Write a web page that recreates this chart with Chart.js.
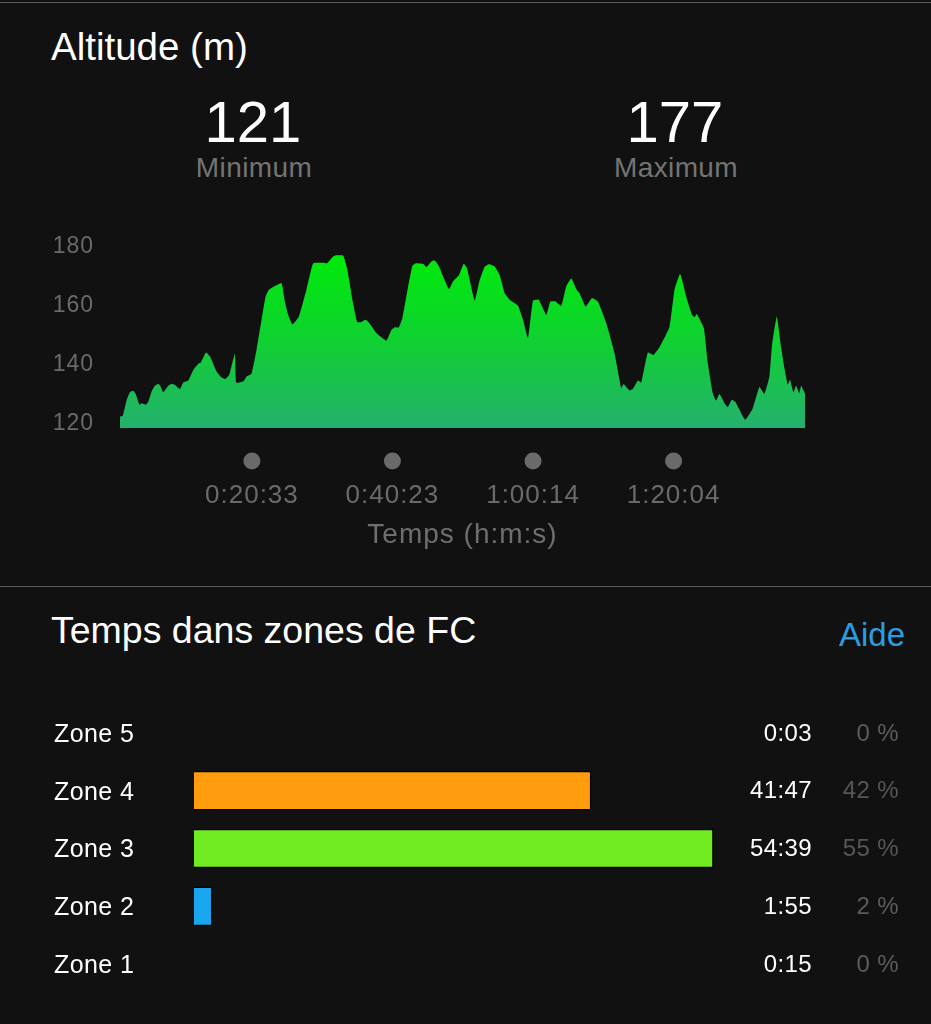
<!DOCTYPE html>
<html>
<head>
<meta charset="utf-8">
<title>Altitude</title>
<script src="https://cdn.jsdelivr.net/npm/chart.js@4"></script>
<style>
  html, body { margin: 0; padding: 0; background: #111112; }
  body { width: 931px; height: 1024px; position: relative; overflow: hidden; font-family: "Liberation Sans", Arial, sans-serif; }
  .t { position: absolute; white-space: nowrap; line-height: 1; }
  .c { transform: translateX(-50%); }
  .sub { font-size: 28px; color: #747474; letter-spacing: 0.4px; top: 154px; }
  .big { font-size: 58px; color: #fff; top: 93px; }
  .rule { position: absolute; left: 0; width: 931px; height: 1px; background: #5a5a5a; }
  canvas { position: absolute; left: 0; }
</style>
</head>
<body>
<div class="rule" style="top:2px"></div>
<div class="t" style="left:51px;top:28px;font-size:38.5px;color:#fff">Altitude (m)</div>
<div class="t c big" style="left:253px">121</div>
<div class="t c sub" style="left:254px">Minimum</div>
<div class="t c big" style="left:675px">177</div>
<div class="t c sub" style="left:676px">Maximum</div>
<canvas id="altChart" width="931" height="330" style="top:230px"></canvas>
<div class="rule" style="top:586px"></div>
<div class="t" style="left:51px;top:612px;font-size:37.5px;color:#fff">Temps dans zones de FC</div>
<div class="t" style="right:26px;top:618px;font-size:33px;color:#2a9de0">Aide</div>
<canvas id="zoneChart" width="931" height="300" style="top:700px"></canvas>
<script>
// altitude trace, elapsed seconds / metres
const altTimes = [116,116,139,173,201,229,252,280,300,336,356,384,412,441,460,483,525,553,582,624,652,694,737,779,801,844,878,934,976,1005,1041,1089,1100,1160,1188,1230,1272,1315,1349,1377,1428,1484,1512,1540,1577,1631,1695,1752,1836,1870,1921,1944,2006,2039,2090,2124,2161,2195,2223,2288,2372,2415,2443,2477,2508,2556,2592,2620,2682,2711,2753,2781,2818,2852,2902,2936,2987,3027,3055,3120,3162,3205,3241,3289,3331,3374,3416,3487,3529,3571,3613,3661,3726,3760,3802,3853,3895,3938,3980,4008,4059,4113,4163,4234,4304,4361,4380,4431,4459,4502,4530,4586,4634,4685,4770,4812,4860,4911,4959,4981,5001,5060,5094,5136,5164,5193,5235,5263,5297,5328,5410,5475,5531,5573,5616,5638,5678,5714,5743,5771,5790,5819,5841,5869,5884,5917];
const altValues = [118,121.8,122,127.5,130.1,130.5,129.2,125.8,126.3,125.8,126.9,130.3,132.2,132.9,132,130,132.2,132.9,132.5,131.1,133.3,134,137.6,139.7,140.1,143.5,142.2,137.1,135,134.5,135.9,143.1,133.3,133.7,135.4,136.3,144.4,154.6,162.5,164.8,166.1,167,160.8,156.3,153,155.7,164.8,173.8,174,173.8,176.1,176.5,176.4,172.1,160.2,153.9,153.9,154.6,153.7,150.1,147.5,151.2,152.1,152,155.2,165.9,172.9,173.8,173.6,172.5,174.4,174.7,172.7,169.3,165,167.6,169.8,173.6,172.1,161.1,168.1,172.7,173.5,172.7,169.8,163.6,161.4,159.4,154.6,148.4,161.1,161.5,156.3,160.8,160.9,159.3,165.9,168.6,165,163.6,159.1,162,160.8,153.5,143.3,131.4,132.8,130.6,131.1,134,133.3,143.5,142.7,145.3,152.3,164.8,170.2,162.5,156.3,155.5,156.6,151.8,139.9,129.7,127.2,129.4,126.3,125,127.5,126.7,120.7,124.6,131.8,129.5,135.4,146.1,155.7,145.5,138.2,132.6,134.3,130,132.2,129.7,132.2,129.5];
const altTicks = [120, 140, 160, 180];
const timeTicks = [1233, 2423, 3614, 4804];
const timeLabels = ['0:20:33', '0:40:23', '1:00:14', '1:20:04'];

const zoneNames = ['Zone 5', 'Zone 4', 'Zone 3', 'Zone 2', 'Zone 1'];
const zoneSeconds = [3, 2507, 3279, 115, 15];
const zoneTimes = ['0:03', '41:47', '54:39', '1:55', '0:15'];
const zonePercents = ['0 %', '42 %', '55 %', '2 %', '0 %'];
const zoneColors = ['transparent', '#ff9d0e', '#72ec22', '#18a6ee', 'transparent'];
const zoneBorders = ['transparent', '#000', '#000', '#000', 'transparent'];

const fontName = '"Liberation Sans"';

// the grey dots over each time label, plus the tracking the labels need
const timeDots = {
    id: 'timeDots',
    beforeDraw(chart) {
        chart.ctx.letterSpacing = '1px';
    },
    afterDraw(chart) {
        const ctx = chart.ctx;
        ctx.save();
        ctx.fillStyle = '#6a6a6a';
        timeTicks.forEach(t => {
            ctx.beginPath();
            ctx.arc(chart.scales.x.getPixelForValue(t), 231, 8.5, 0, Math.PI * 2);
            ctx.fill();
        });
        ctx.restore();
    }
};

// big tick paddings eat into the chart area otherwise
const noScalePadding = s => {
    s.paddingTop = 0;
    s.paddingBottom = 0;
    s.paddingLeft = 0;
    s.paddingRight = 0;
};

new Chart(document.getElementById('altChart').getContext('2d'), {
    type: 'line',
    data: {
        datasets: [{
            data: altTimes.map((t, i) => ({ x: t, y: altValues[i] })),
            borderWidth: 0,
            pointRadius: 0,
            tension: 0.12,
            fill: 'start',
            backgroundColor: ctx => {
                const area = ctx.chart.chartArea;
                if (!area) return '#10c040';
                const g = ctx.chart.ctx.createLinearGradient(0, area.top + 10, 0, area.bottom);
                g.addColorStop(0, '#00ea0a');
                g.addColorStop(0.5, '#10d032');
                g.addColorStop(1, '#24b06e');
                return g;
            }
        }]
    },
    options: {
        responsive: false,
        animation: false,
        devicePixelRatio: 1,
        layout: { padding: { top: 15, right: 126, left: 0, bottom: 0 } },
        plugins: { legend: { display: false }, tooltip: { enabled: false } },
        scales: {
            x: {
                type: 'linear',
                min: altTimes[0],
                max: altTimes[altTimes.length - 1],
                grid: { display: false, drawTicks: false },
                border: { display: false },
                afterFit: s => { s.height = 132; noScalePadding(s); },
                afterBuildTicks: s => { s.ticks = timeTicks.map(v => ({ value: v })); },
                ticks: {
                    autoSkip: false,
                    maxRotation: 0,
                    padding: 52,
                    color: '#6a6a6a',
                    font: { family: fontName, size: 26 },
                    callback: v => timeLabels[timeTicks.indexOf(v)]
                },
                title: {
                    display: true,
                    text: 'Temps (h:m:s)',
                    color: '#6e6e6e',
                    font: { family: fontName, size: 28 },
                    padding: { top: 0, bottom: 8 }
                }
            },
            y: {
                min: 117.9,
                max: 180,
                grid: { display: false, drawTicks: false },
                border: { display: false },
                afterFit: s => { s.width = 120; noScalePadding(s); },
                afterBuildTicks: s => { s.ticks = altTicks.map(v => ({ value: v })); },
                ticks: { padding: 26, labelOffset: 2, color: '#6a6a6a', font: { family: fontName, size: 23 } }
            }
        }
    },
    plugins: [timeDots]
});

// time and share columns on the right of the bars
const zoneColumns = {
    id: 'zoneColumns',
    beforeDraw(chart) {
        chart.ctx.letterSpacing = '0.4px';
    },
    afterDraw(chart) {
        const ctx = chart.ctx;
        const y = chart.scales.y;
        ctx.save();
        ctx.textAlign = 'right';
        ctx.textBaseline = 'middle';
        ctx.font = '24px ' + fontName;
        zoneNames.forEach((n, i) => {
            ctx.fillStyle = '#fff';
            ctx.fillText(zoneTimes[i], 812, y.getPixelForValue(i) + 1);
            ctx.fillStyle = i === 1 || i === 2 ? '#565656' : '#5c5c5c';
            ctx.fillText(zonePercents[i], 899, y.getPixelForValue(i) + 1);
        });
        ctx.restore();
    }
};

new Chart(document.getElementById('zoneChart').getContext('2d'), {
    type: 'bar',
    data: {
        labels: zoneNames,
        datasets: [{
            data: zoneSeconds,
            backgroundColor: zoneColors,
            borderColor: zoneBorders,
            borderWidth: 1.5,
            barThickness: 39
        }]
    },
    options: {
        indexAxis: 'y',
        responsive: false,
        animation: false,
        devicePixelRatio: 1,
        layout: { padding: { top: 4, right: 105, left: 0, bottom: 7 } },
        plugins: { legend: { display: false }, tooltip: { enabled: false } },
        scales: {
            x: { display: false, min: 0, max: 3990 },
            y: {
                grid: { display: false, drawTicks: false },
                border: { display: false },
                afterFit: s => { s.width = 194; noScalePadding(s); },
                ticks: {
                    crossAlign: 'center',
                    padding: 61,
                    labelOffset: 2,
                    color: '#fff',
                    font: { family: fontName, size: 25 }
                }
            }
        }
    },
    plugins: [zoneColumns]
});
</script>
</body>
</html>
